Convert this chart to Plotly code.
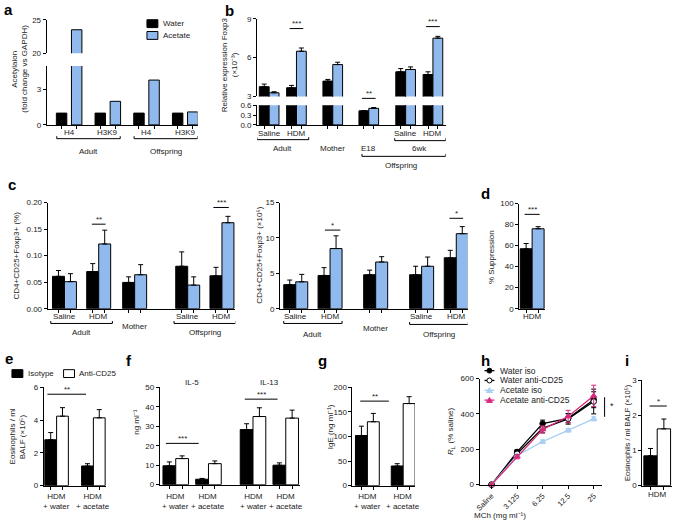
import plotly.graph_objects as go

W, H = 685, 528
FONT = "Liberation Sans, Arial, sans-serif"
BLACK = "#000000"
BLUE = "#90BAEE"
LBLUE = "#A9CFF3"
MAGENTA = "#D92A7E"

# ---------------- data ----------------
# panel a
a_labels = ["H4", "H3K9", "H4", "H3K9"]
a_water = [1.0, 1.0, 1.0, 1.0]
a_acetate = [23.5, 2.0, 3.8, 1.1]

# panel b
b_labels = ["Saline", "HDM", "Mother", "E18", "Saline", "HDM"]
b_water = [3.75, 3.67, 4.18, 0.43, 4.90, 4.69]
b_water_err = [0.20, 0.18, 0.13, 0.0, 0.25, 0.21]
b_acetate = [3.28, 6.49, 5.46, 0.505, 5.08, 7.50]
b_acetate_err = [0.08, 0.25, 0.18, 0.025, 0.20, 0.14]

# panel c (left, %)
c1_labels = ["Saline", "HDM", "Mother", "Saline", "HDM"]
c1_water = [0.061, 0.070, 0.0495, 0.080, 0.062]
c1_water_err = [0.011, 0.015, 0.0105, 0.027, 0.016]
c1_acetate = [0.051, 0.122, 0.064, 0.0445, 0.162]
c1_acetate_err = [0.015, 0.026, 0.019, 0.0155, 0.012]

# panel c (right, x10^5)
c2_labels = ["Saline", "HDM", "Mother", "Saline", "HDM"]
c2_water = [3.4, 4.7, 4.8, 4.8, 7.2]
c2_water_err = [0.65, 1.1, 0.65, 1.2, 1.05]
c2_acetate = [3.8, 8.5, 6.6, 6.0, 10.6]
c2_acetate_err = [1.05, 1.8, 0.75, 1.3, 1.0]

# panel d
d_labels = ["HDM"]
d_water = [57.0]
d_water_err = [5.0]
d_acetate = [76.0]
d_acetate_err = [2.0]

# panel e
e_labels = ["HDM<br>+ water", "HDM<br>+ acetate"]
e_iso = [2.80, 1.20]
e_iso_err = [0.44, 0.14]
e_anti = [4.24, 4.14]
e_anti_err = [0.52, 0.50]

# panel f
f_labels = ["HDM<br>+ water", "HDM<br>+ acetate", "HDM<br>+ water", "HDM<br>+ acetate"]
f_iso = [9.7, 2.8, 28.3, 10.0]
f_iso_err = [2.0, 0.4, 3.0, 1.2]
f_anti = [13.4, 10.8, 35.0, 34.2]
f_anti_err = [1.4, 1.4, 4.5, 4.1]

# panel g
g_labels = ["HDM<br>+ water", "HDM<br>+ acetate"]
g_iso = [102.0, 40.0]
g_iso_err = [19.0, 4.7]
g_anti = [130.0, 167.0]
g_anti_err = [17.0, 14.0]

# panel h
h_doses = ["Saline", "3.125", "6.25", "12.5", "25"]
h_water_iso = [0, 185, 345, 375, 480]
h_water_iso_err = [0, 12, 20, 25, 45]
h_water_anti = [0, 175, 318, 372, 470]
h_water_anti_err = [0, 15, 25, 30, 70]
h_acetate_iso = [0, 165, 243, 307, 372]
h_acetate_iso_err = [0, 8, 10, 10, 12]
h_acetate_anti = [0, 158, 312, 385, 502]
h_acetate_anti_err = [0, 12, 20, 35, 60]

# panel i
i_labels = ["HDM"]
i_iso = [0.85]
i_iso_err = [0.21]
i_anti = [1.62]
i_anti_err = [0.28]

# ---------------- helpers ----------------
def px(x):
    return x / W


def py(y):
    return 1 - y / H


fig = go.Figure()
layout = {}
shapes = []
annos = []
TS = 8      # tick font size
LS = 8      # label font size


def key(kind, i):
    return f"{kind}axis" if i == 1 else f"{kind}axis{i}"


def ref(kind, i):
    return kind if i == 1 else f"{kind}{i}"


def yaxis(i, xi, ytop, ybot, rng, tickvals, ticktext=None):
    d = dict(domain=[py(ybot), py(ytop)], range=rng, anchor=ref("x", xi),
             showline=True, linecolor=BLACK, linewidth=1, ticks="outside",
             ticklen=3, tickwidth=1, tickcolor=BLACK, showgrid=False,
             zeroline=False, tickvals=tickvals, tickfont=dict(size=TS, color="#222"),
             fixedrange=True)
    if ticktext is not None:
        d["ticktext"] = ticktext
    layout[key("y", i)] = d


def xaxis(i, yi, x0, x1, rng, tickvals, ticktext=None, angle=None):
    d = dict(domain=[px(x0), px(x1)], range=rng, anchor=ref("y", yi),
             showline=True, linecolor=BLACK, linewidth=1, ticks="outside",
             ticklen=3, tickwidth=1, tickcolor=BLACK, showgrid=False,
             zeroline=False, tickvals=tickvals, fixedrange=True,
             tickfont=dict(size=TS, color="#222"))
    if ticktext is None:
        d["showticklabels"] = False
    else:
        d["ticktext"] = ticktext
    if angle is not None:
        d["tickangle"] = angle
    layout[key("x", i)] = d


def bar(xi, yi, pos, vals, errs, color, offset, width, err_ok=None):
    e = None
    if errs is not None:
        arr = [ev if (err_ok is None or err_ok(v)) else None for v, ev in zip(vals, errs)]
        e = dict(type="data", symmetric=False, array=arr, arrayminus=[0] * len(vals),
                 color=BLACK, thickness=1, width=2.5)
    fig.add_trace(go.Bar(x=pos, y=vals, xaxis=ref("x", xi), yaxis=ref("y", yi),
                         width=[width] * len(vals), offset=[offset] * len(vals),
                         marker=dict(color=color, line=dict(color=BLACK, width=1)),
                         error_y=e, showlegend=False, hoverinfo="skip"))


def text(xref, x, ypx, s, size=LS, xanchor="center", color="#222"):
    annos.append(dict(xref=xref, yref="paper", x=x, y=py(ypx), text=s,
                      showarrow=False, xanchor=xanchor, yanchor="middle",
                      font=dict(size=size, color=color)))


def vtext(xpx, ypx, s, size=LS):
    annos.append(dict(xref="paper", yref="paper", x=px(xpx), y=py(ypx), text=s,
                      showarrow=False, textangle=-90, xanchor="center", yanchor="middle",
                      font=dict(size=size, color="#222")))


def bracket(xref, x0, x1, ypx):
    yb, yu = py(ypx), py(ypx - 2.5)
    shapes.append(dict(type="path", xref=xref, yref="paper",
                       path=f"M{x0},{yu} L{x0},{yb} L{x1},{yb} L{x1},{yu}",
                       line=dict(color=BLACK, width=1)))


def sig(xref, x0, x1, ypx, s):
    shapes.append(dict(type="line", xref=xref, yref="paper", x0=x0, x1=x1,
                       y0=py(ypx), y1=py(ypx), line=dict(color=BLACK, width=1)))
    text(xref, (x0 + x1) / 2, ypx - 5, s, size=8)


def letter(xpx, ypx, s):
    annos.append(dict(xref="paper", yref="paper", x=px(xpx), y=py(ypx), text=f"<b>{s}</b>",
                      showarrow=False, xanchor="center", yanchor="middle",
                      font=dict(size=15, color=BLACK)))


def swatch(x0, y0, x1, y1, color):
    shapes.append(dict(type="rect", xref="paper", yref="paper", x0=px(x0), x1=px(x1),
                       y0=py(y1), y1=py(y0), fillcolor=color, line=dict(color=BLACK, width=1)))


def centers(pos, bw, gap=0.0):
    out = []
    for p in pos:
        out += [p - gap / 2 - bw / 2, p + gap / 2 + bw / 2]
    return out


# ---------------- panel a (broken axis) ----------------
a_pos = list(range(len(a_labels)))
a_bw, a_gap = 0.27, 0.12
for yi in (1, 2):
    bar(1, yi, a_pos, a_water, None, BLACK, -a_gap / 2 - a_bw, a_bw)
    bar(1, yi, a_pos, a_acetate, None, BLUE, a_gap / 2, a_bw)
xaxis(1, 1, 42, 194, [-0.58, 3.32], centers(a_pos, a_bw, a_gap))
yaxis(1, 1, 63, 123, [0, 5], [0, 3])
yaxis(2, 1, 16, 50, [20, 25], [20, 25])
for p, s in zip(a_pos, a_labels):
    text("x", p, 131, s)
bracket("x", a_pos[0] - 0.32, a_pos[1] + 0.32, 137)
bracket("x", a_pos[2] - 0.32, a_pos[3] + 0.32, 137)
text("x", (a_pos[0] + a_pos[1]) / 2, 150, "Adult")
text("x", (a_pos[2] + a_pos[3]) / 2, 150, "Offspring")
vtext(10, 66, "Acetylaion")
vtext(20, 66, "(fold change vs GAPDH)")
swatch(143, 16, 154, 24, BLACK)
swatch(143, 28, 154, 36, BLUE)
text("paper", px(157), 20, "Water", xanchor="left")
text("paper", px(157), 32, "Acetate", xanchor="left")
letter(4, 6, "a")

# ---------------- panel b (broken axis) ----------------
b_pos = [0, 1, 2.33, 3.65, 5, 6]
b_bw = 0.36
bar(2, 3, b_pos, b_water, b_water_err, BLACK, -b_bw, b_bw, err_ok=lambda v: v < 0.6)
bar(2, 3, b_pos, b_acetate, b_acetate_err, BLUE, 0, b_bw, err_ok=lambda v: v < 0.6)
bar(2, 4, b_pos, b_water, b_water_err, BLACK, -b_bw, b_bw, err_ok=lambda v: v > 3)
bar(2, 4, b_pos, b_acetate, b_acetate_err, BLUE, 0, b_bw, err_ok=lambda v: v > 3)
xaxis(2, 3, 254, 444, [-0.44, 6.47], centers(b_pos, b_bw))
yaxis(3, 2, 103, 123, [0, 0.6], [0, 0.3, 0.6], ["0.0", "0.3", "0.6"])
yaxis(4, 2, 15, 94, [3, 9], [3, 6, 9])
for i in (0, 1, 4, 5):
    text("x2", b_pos[i], 132, b_labels[i])
for i in (2, 3):
    text("x2", b_pos[i], 147, b_labels[i])
bracket("x2", b_pos[0] - 0.45, b_pos[1] + 0.45, 138)
text("x2", (b_pos[0] + b_pos[1]) / 2, 147, "Adult")
bracket("x2", b_pos[4] - 0.4, b_pos[5] + 0.47, 139)
text("x2", (b_pos[4] + b_pos[5]) / 2, 147, "6wk")
bracket("x2", b_pos[3] - 0.25, b_pos[5] + 0.47, 155)
text("x2", (b_pos[3] + b_pos[5]) / 2, 164, "Offspring")
sig("x2", b_pos[1] - 0.25, b_pos[1] + 0.25, 25, "***")
sig("x2", b_pos[3] - 0.25, b_pos[3] + 0.25, 96, "**")
sig("x2", b_pos[5] - 0.25, b_pos[5] + 0.25, 23, "***")
vtext(222, 62, "Relative expression Foxp3")
vtext(232, 62, "(×10⁻³)")
letter(226, 7, "b")

# ---------------- panel c left ----------------
c1_pos = [0, 1, 2.05, 3.6, 4.6]
c_bw = 0.35
bar(3, 5, c1_pos, c1_water, c1_water_err, BLACK, -c_bw, c_bw)
bar(3, 5, c1_pos, c1_acetate, c1_acetate_err, BLUE, 0, c_bw)
xaxis(3, 5, 43, 232, [-0.49, 4.99], centers(c1_pos, c_bw))
yaxis(5, 3, 202, 310, [0, 0.2], [0, 0.05, 0.1, 0.15, 0.2],
      ["0.00", "0.05", "0.10", "0.15", "0.20"])
for i in (0, 1, 3, 4):
    text("x3", c1_pos[i], 318, c1_labels[i])
text("x3", c1_pos[2], 328, c1_labels[2])
bracket("x3", c1_pos[0] - 0.4, c1_pos[1] + 0.4, 325)
bracket("x3", c1_pos[3] - 0.4, c1_pos[4] + 0.4, 325)
text("x3", (c1_pos[0] + c1_pos[1]) / 2, 334, "Adult")
text("x3", (c1_pos[3] + c1_pos[4]) / 2, 334, "Offspring")
sig("x3", c1_pos[1] - 0.2, c1_pos[1] + 0.2, 224, "**")
sig("x3", c1_pos[4] - 0.25, c1_pos[4] + 0.2, 207, "***")
vtext(12, 256, "CD4+CD25+Foxp3+ (%)")
letter(7, 184, "c")

# ---------------- panel c right ----------------
c2_pos = [0, 1, 2.33, 3.67, 4.68]
bar(4, 6, c2_pos, c2_water, c2_water_err, BLACK, -c_bw, c_bw)
bar(4, 6, c2_pos, c2_acetate, c2_acetate_err, BLUE, 0, c_bw)
xaxis(4, 6, 277, 466, [-0.46, 5.01], centers(c2_pos, c_bw))
yaxis(6, 4, 202, 310, [0, 15], [0, 5, 10, 15])
for i in (0, 1, 3, 4):
    text("x4", c2_pos[i], 318, c2_labels[i])
text("x4", c2_pos[2], 330, c2_labels[2])
bracket("x4", c2_pos[0] - 0.35, c2_pos[1] + 0.35, 325)
bracket("x4", c2_pos[3] - 0.35, c2_pos[4] + 0.35, 326)
text("x4", (c2_pos[0] + c2_pos[1]) / 2, 336, "Adult")
text("x4", (c2_pos[3] + c2_pos[4]) / 2, 336, "Offspring")
sig("x4", c2_pos[1] - 0.15, c2_pos[1] + 0.3, 230, "*")
sig("x4", c2_pos[4] - 0.2, c2_pos[4] + 0.2, 218, "*")
vtext(257, 256, "CD4+CD25+Foxp3+ (×10⁵)")

# ---------------- panel d ----------------
d_pos = [0]
bar(5, 7, d_pos, d_water, d_water_err, BLACK, -c_bw, c_bw)
bar(5, 7, d_pos, d_acetate, d_acetate_err, BLUE, 0, c_bw)
xaxis(5, 7, 518, 544, [-0.377, 0.377], centers(d_pos, c_bw))
yaxis(7, 5, 203, 310, [0, 100], [0, 20, 40, 60, 80, 100])
text("x5", 0, 318, d_labels[0])
sig("x5", -0.22, 0.22, 214, "***")
vtext(490, 257, "% Suppression")
letter(484, 193, "d")

# ---------------- panel e ----------------
e_pos = [0, 1]
e_bw = 0.32
bar(6, 8, e_pos, e_iso, e_iso_err, BLACK, -e_bw, e_bw)
bar(6, 8, e_pos, e_anti, e_anti_err, "white", 0, e_bw)
xaxis(6, 8, 39, 102, [-0.35, 1.35], centers(e_pos, e_bw))
yaxis(8, 6, 390, 490, [0, 6], [0, 2, 4, 6])
for p, s in zip(e_pos, e_labels):
    text("x6", p, 506, s)
sig("x6", -0.25, 0.8, 397, "**")
vtext(8, 440, "Eosinophils / ml")
vtext(18, 440, "BALF (×10⁵)")
swatch(7, 372, 18, 380, BLACK)
swatch(59, 372, 70, 380, "white")
text("paper", px(21), 376, "Isotype", xanchor="left")
text("paper", px(73), 376, "Anti-CD25", xanchor="left")
letter(4, 361, "e")

# ---------------- panel f ----------------
f_pos = [0, 1, 2.36, 3.36]
f_bw = 0.39
bar(7, 9, f_pos, f_iso, f_iso_err, BLACK, -f_bw, f_bw)
bar(7, 9, f_pos, f_anti, f_anti_err, "white", 0, f_bw)
xaxis(7, 9, 156, 297, [-0.485, 3.79], centers(f_pos, f_bw))
yaxis(9, 7, 390, 489, [0, 50], [0, 10, 20, 30, 40, 50])
for p, s in zip(f_pos, f_labels):
    text("x7", p, 506, s)
text("x7", (f_pos[0] + f_pos[1]) / 2, 385, "IL-5")
text("x7", (f_pos[2] + f_pos[3]) / 2, 385, "IL-13")
sig("x7", f_pos[0] - 0.3, f_pos[1] - 0.3, 447, "***")
sig("x7", f_pos[2] - 0.25, f_pos[3] - 0.25, 402, "***")
vtext(133, 425, "ng ml⁻¹")
letter(125, 363, "f")

# ---------------- panel g ----------------
g_pos = [0, 1]
g_bw = 0.333
bar(8, 10, g_pos, g_iso, g_iso_err, BLACK, -g_bw, g_bw)
bar(8, 10, g_pos, g_anti, g_anti_err, "white", 0, g_bw)
xaxis(8, 10, 350, 413, [-0.417, 1.33], centers(g_pos, g_bw))
yaxis(10, 8, 390, 490, [0, 200], [0, 50, 100, 150, 200])
for p, s in zip(g_pos, g_labels):
    text("x8", p, 506, s)
sig("x8", -0.2, 0.6, 404, "**")
vtext(328, 430, "IgE (ng ml⁻¹)")
letter(320, 363, "g")

# ---------------- panel h ----------------
h_pos = list(range(len(h_doses)))
series = [
    ("Water iso", h_water_iso, h_water_iso_err, BLACK, "circle", BLACK),
    ("Water anti-CD25", h_water_anti, h_water_anti_err, BLACK, "circle", "white"),
    ("Acetate iso", h_acetate_iso, h_acetate_iso_err, LBLUE, "triangle-up", LBLUE),
    ("Acetate anti-CD25", h_acetate_anti, h_acetate_anti_err, MAGENTA, "triangle-up", MAGENTA),
]
for name, vals, errs, col, sym, fill in series:
    fig.add_trace(go.Scatter(x=h_pos, y=vals, xaxis="x9", yaxis="y11", mode="lines+markers",
                             line=dict(color=col, width=1.3),
                             marker=dict(symbol=sym, size=5.5, color=fill, line=dict(color=col, width=1)),
                             error_y=dict(type="data", array=errs, color=col, thickness=1, width=2.5),
                             showlegend=False, hoverinfo="skip", cliponaxis=False))
xaxis(9, 11, 478, 601, [-0.47, 4.31], h_pos, h_doses, angle=-45)
layout["xaxis9"]["tickfont"] = dict(size=7.5, color="#222")
yaxis(11, 9, 381, 489, [0, 600], [0, 200, 400, 600])
annos.append(dict(xref="paper", yref="paper", x=px(527), y=py(520), text="MCh (mg ml⁻¹)",
                  showarrow=False, yanchor="middle", font=dict(size=LS, color="#222")))
# R_L (% saline) axis title built from three rotated pieces
vtext(449, 456, "<i>R</i>")
vtext(451.5, 451, "L", size=6)
vtext(449, 429, "(% saline)")
for k, (name, vals, errs, col, sym, fill) in enumerate(series):
    yy = 373 + k * 10
    shapes.append(dict(type="line", xref="paper", yref="paper", x0=px(483), x1=px(493),
                       y0=py(yy), y1=py(yy), line=dict(color=col, width=1.3)))
    if sym == "circle":
        shapes.append(dict(type="circle", xref="paper", yref="paper", x0=px(485.5), x1=px(490.5),
                           y0=py(yy + 2.5), y1=py(yy - 2.5), fillcolor=fill, line=dict(color=col, width=1)))
    else:
        shapes.append(dict(type="path", xref="paper", yref="paper",
                           path=f"M{px(485)},{py(yy + 2.3)} L{px(491)},{py(yy + 2.3)} L{px(488)},{py(yy - 2.7)} Z",
                           fillcolor=fill, line=dict(color=col, width=1)))
    text("paper", px(497), yy, name, xanchor="left", size=8.5)
shapes.append(dict(type="line", xref="paper", yref="paper", x0=px(604), x1=px(604),
                   y0=py(400), y1=py(420), line=dict(color=BLACK, width=1)))
text("paper", px(611), 409, "*", size=9)
letter(484, 363, "h")

# ---------------- panel i ----------------
i_pos = [0]
i_bw = 0.35
bar(10, 12, i_pos, i_iso, i_iso_err, BLACK, -i_bw, i_bw)
bar(10, 12, i_pos, i_anti, i_anti_err, "white", 0, i_bw)
xaxis(10, 12, 642, 672, [-0.39, 0.39], centers(i_pos, i_bw))
yaxis(12, 10, 383, 490, [0, 3], [0, 1, 2, 3])
text("x10", 0, 499, i_labels[0])
sig("x10", -0.2, 0.25, 409, "*")
vtext(627, 436, "Eosinophils / ml BALF (×10⁵)", size=7.5)
letter(627, 363, "i")

fig.update_layout(**layout)
fig.update_layout(width=W, height=H, margin=dict(l=0, r=0, t=0, b=0),
                  paper_bgcolor="white", plot_bgcolor="white",
                  font=dict(family=FONT, size=8, color="#222"),
                  barmode="overlay", showlegend=False,
                  shapes=shapes, annotations=annos)
fig.write_html("out.html", config={"displayModeBar": False},
               post_script="document.body.style.margin='0px';document.body.style.overflow='hidden';")
